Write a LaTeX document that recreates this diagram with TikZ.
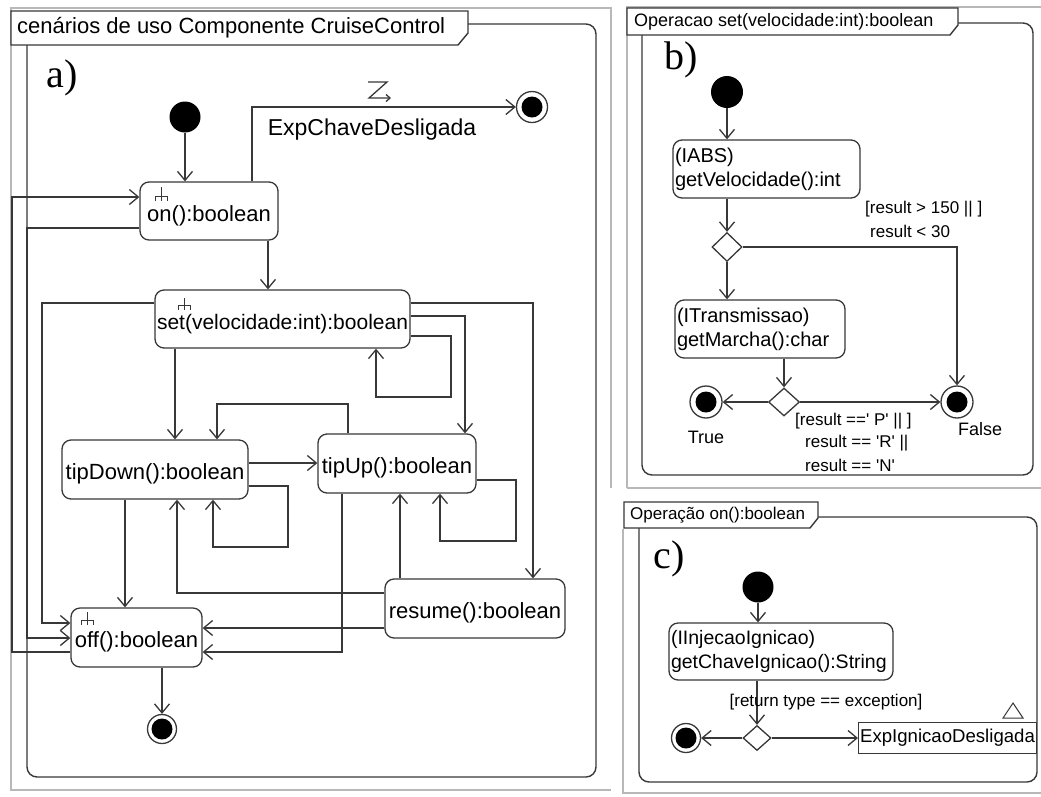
\documentclass[tikz,border=0pt]{standalone}
\usepackage{fontspec}
\setmainfont{Liberation Sans}
\newfontfamily\seriffont{Liberation Serif}
\usetikzlibrary{arrows.meta,shapes.geometric}
\newcommand\sq{\textquotesingle}
\begin{document}
\begin{tikzpicture}[x=1pt,y=-1pt,
  ln/.style={draw=black!78,line width=1.3pt},
  arr/.style={ln,-{Straight Barb[length=9pt,width=15pt]}},
  grayline/.style={draw=black!28,line width=1.6pt},
  frm/.style={draw=black!78,line width=1.4pt,rounded corners=10pt},
  tabbox/.style={draw=black!78,line width=1.4pt,fill=white},
  sbox/.style={draw=black!78,line width=1.3pt,rounded corners=9pt,inner sep=0pt,
    font=\fontsize{22}{26}\selectfont,text height=22pt,text depth=2pt},
  bbox/.style={draw=black!78,line width=1.3pt,rounded corners=9pt,inner xsep=2pt,inner ysep=0pt,
    align=left,font=\fontsize{20}{24}\selectfont},
  startnode/.style={circle,fill=black,inner sep=0pt},
  endnode/.style={circle,draw=black!78,line width=1.3pt,fill=white,inner sep=0pt,
    path picture={\fill[black] (path picture bounding box.center) circle (10.5pt);}},
  decision/.style={diamond,draw=black!78,line width=1.3pt,fill=white,inner sep=0pt,aspect=1},
  guard/.style={inner sep=0pt,font=\fontsize{17}{20}\selectfont},
  rk/.style={draw=black!78,line width=1pt}
]
\useasboundingbox (0,0) rectangle (1041,796);
\clip (0,0) rectangle (1041,796);
\fill[white] (0,0) rectangle (1041,796);

% ---------------- outer gray frames ----------------
\draw[grayline] (611,488) -- (611,8) -- (11,8) -- (11,790) -- (611,790);
\draw[grayline] (627,488) -- (627,7) -- (1045,7);
\draw[grayline] (627,488) -- (1045,488);
\draw[grayline] (623,529) -- (623,793) -- (1045,793);

% ---------------- panel a ----------------
\draw[frm] (27,24) rectangle (596,777);
\draw[tabbox] (11,11) -- (468,11) -- (468,33) -- (458,45) -- (11,45) -- cycle;
\node[anchor=west,inner sep=0pt,font=\fontsize{22}{26}\selectfont] (taba) at (17,28) {cenários de uso Componente CruiseControl};
\node[font=\seriffont\fontsize{40}{44}\selectfont,inner sep=0pt] (la) at (62,78) {a)};

\node[startnode,minimum size=31pt] (ia) at (185,117) {};
\node[endnode,minimum size=31pt] (fa) at (532,107) {};
\node[sbox,minimum width=138pt,minimum height=58pt] (on) at (209,211) {on():boolean};
\node[sbox,minimum width=255pt,minimum height=58pt,font=\fontsize{21}{26}\selectfont] (set) at (282.5,319) {set(velocidade:int):boolean};
\node[sbox,minimum width=186pt,minimum height=59pt] (tipDown) at (155,469.5) {tipDown():boolean};
\node[sbox,minimum width=158pt,minimum height=59pt] (tipUp) at (397,463.5) {tipUp():boolean};
\node[sbox,minimum width=180pt,minimum height=59pt] (resume) at (475,608.5) {resume():boolean};
\node[sbox,minimum width=131pt,minimum height=59pt] (off) at (136.5,637.5) {off():boolean};
\node[endnode,minimum size=29pt] (fo) at (162,729) {};

% rake icons
\draw[rk] (161,187) -- (161,201) (155,201) -- (155,196) -- (167,196) -- (167,201);
\draw[rk] (184,298) -- (184,310) (178,310) -- (178,305) -- (190,305) -- (190,310);
\draw[rk] (87,612) -- (87,625) (81,625) -- (81,620) -- (93,620) -- (93,625);

% exception flow
\draw[arr] (ia) -- (ia |- on.north);
\draw[arr] (on.north -| 252,0) -- (252,107) -- (fa);
\draw[ln,-{Straight Barb[length=4pt,width=7pt]}] (368,82) -- (387,82) -- (369,98) -- (391,98);
\node[inner sep=0pt,font=\fontsize{23}{26}\selectfont] (lexp) at (372,130) {ExpChaveDesligada};

\draw[arr] (on.south -| 268,0) -- (268,0 |- set.north);
\draw[arr] (on.west |- 0,228) -- (27,228) -- (27,638) -- (off.west |- 0,638);
\draw[arr] (off.west |- 0,652) -- (12,652) -- (12,197) -- (on.west |- 0,197);
\draw[arr] (set.west |- 0,303) -- (42,303) -- (42,623) -- (off.west |- 0,623);
\draw[arr] (set.south -| 175,0) -- (175,0 |- tipDown.north);
\draw[arr] (set.east |- 0,316) -- (465,316) -- (465,0 |- tipUp.north);
\draw[arr] (set.east |- 0,303) -- (533,303) -- (533,0 |- resume.north);
\draw[arr] (set.east |- 0,336) -- (451,336) -- (451,397) -- (376,397) -- (376,0 |- set.south);
\draw[arr] (tipUp.north -| 348,0) -- (348,404) -- (217,404) -- (217,0 |- tipDown.north);
\draw[arr] (tipDown.east |- 0,463) -- (tipUp.west |- 0,463);
\draw[arr] (tipDown.east |- 0,486) -- (288,486) -- (288,547) -- (213,547) -- (213,0 |- tipDown.south);
\draw[arr] (tipUp.east |- 0,480) -- (516,480) -- (516,541) -- (440,541) -- (440,0 |- tipUp.south);
\draw[arr] (tipDown.south -| 125,0) -- (125,0 |- off.north);
\draw[arr] (tipUp.south -| 342,0) -- (342,652) -- (off.east |- 0,652);
\draw[arr] (resume.west |- 0,628) -- (off.east |- 0,628);
\draw[arr] (resume.west |- 0,593) -- (177,593) -- (177,0 |- tipDown.south);
\draw[arr] (resume.north -| 400,0) -- (400,0 |- tipUp.south);
\draw[arr] (off.south -| 162,0) -- (fo);

% ---------------- panel b ----------------
\draw[frm] (642,23) rectangle (1033,475);
\draw[tabbox] (627,8) -- (958,8) -- (958,25) -- (950,35) -- (627,35) -- cycle;
\node[anchor=west,inner sep=0pt,font=\fontsize{18}{22}\selectfont] (tabb) at (634,22) {Operacao set(velocidade:int):boolean};
\node[font=\seriffont\fontsize{40}{44}\selectfont,inner sep=0pt] (lb) at (681,60) {b)};

\node[startnode,minimum size=32pt] (ib) at (727,92) {};
\node[bbox,text width=183pt,minimum height=58pt] (iabs) at (766.5,169) {(IABS)\\getVelocidade():int};
\node[decision,minimum width=30pt,minimum height=29pt] (d1) at (727,247) {};
\node[bbox,text width=166pt,minimum height=58pt] (itr) at (760,329) {(ITransmissao)\\getMarcha():char};
\node[decision,minimum width=31pt,minimum height=28pt] (d2) at (784,402) {};
\node[endnode,minimum size=32pt] (ftrue) at (706,402) {};
\node[endnode,minimum size=32pt] (ffalse) at (957,402) {};

\draw[arr] (ib) -- (ib |- iabs.north);
\draw[arr] (d1 |- iabs.south) -- (d1);
\draw[arr] (d1.east) -- (ffalse |- d1.east) -- (ffalse);
\draw[arr] (d1) -- (d1 |- itr.north);
\draw[arr] (d2 |- itr.south) -- (d2);
\draw[arr] (d2) -- (ftrue);
\draw[arr] (d2) -- (ffalse);

\node[guard,anchor=west] (g1) at (865,209) {[result > 150 || ]};
\node[guard,anchor=west] (g2) at (870,231) {result < 30};
\node[guard,font=\fontsize{18}{20}\selectfont] (ltrue) at (706,437) {True};
\node[guard,font=\fontsize{18}{20}\selectfont] (lfalse) at (980,429) {False};
\node[guard,anchor=west] (g3) at (795,421) {[result ==\sq{} P\sq{} || ]};
\node[guard,anchor=west] (g4) at (805,443) {result == \sq R\sq{} ||};
\node[guard,anchor=west] (g5) at (805,465) {result == \sq N\sq};

% ---------------- panel c ----------------
\draw[frm] (639,517) rectangle (1037,782);
\draw[tabbox] (624,502) -- (818,502) -- (818,518) -- (810,528) -- (624,528) -- cycle;
\node[anchor=west,inner sep=0pt,font=\fontsize{17}{20}\selectfont] (tabc) at (630,515) {Operação on():boolean};
\node[font=\seriffont\fontsize{40}{44}\selectfont,inner sep=0pt] (lc) at (669,559) {c)};

\node[startnode,minimum size=31pt] (ic) at (758,587) {};
\node[bbox,text width=220pt,minimum height=57pt,font=\fontsize{19.5}{24}\selectfont] (iig) at (781,651.5) {(IInjecaoIgnicao)\\getChaveIgnicao():String};
\node[decision,minimum width=28pt,minimum height=25pt] (d3) at (757,738) {};
\node[endnode,minimum size=29pt] (fc) at (686,738) {};
\node[draw=black!78,line width=1.3pt,anchor=west,inner xsep=1.5pt,minimum height=31pt,font=\fontsize{18.6}{22}\selectfont] (exp) at (858,738) {ExpIgnicaoDesligada};
\draw[ln,line width=1pt] (1003,718) -- (1023,718) -- (1013,703) -- cycle;

\draw[arr] (ic) -- (ic |- iig.north);
\draw[arr] (d3 |- iig.south) -- (d3);
\draw[arr] (d3) -- (fc);
\draw[arr] (d3) -- (exp.west);
\node[guard] (g6) at (826,702) {[return type == exception]};
\end{tikzpicture}
\end{document}
